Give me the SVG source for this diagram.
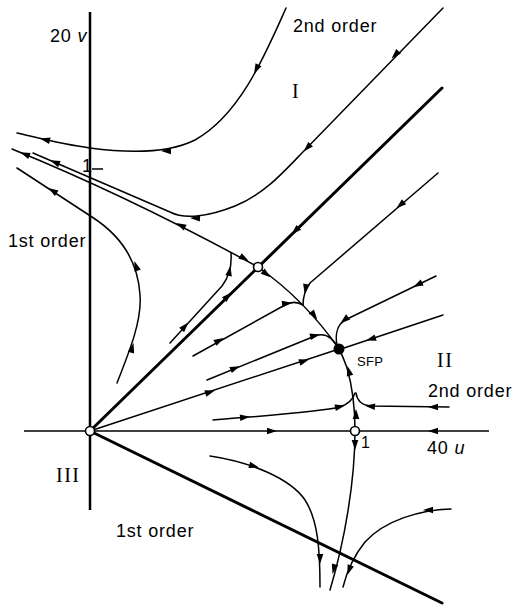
<svg xmlns="http://www.w3.org/2000/svg" xmlns:xlink="http://www.w3.org/1999/xlink" width="516" height="605" viewBox="0 0 516 605">
<style>
.thin{fill:none;stroke:#000;stroke-width:1.5;stroke-linecap:round;stroke-linejoin:round}
.thick{fill:none;stroke:#000;stroke-width:3;stroke-linecap:round}
.axis{fill:none;stroke:#000}
.lbl{font-family:"Liberation Sans",Arial,sans-serif;font-size:18px;fill:#000;letter-spacing:0.8px}
.rom{font-family:"Liberation Serif","Times New Roman",serif;font-size:20px;fill:#000;letter-spacing:1.5px}
.pt{fill:#fff;stroke:#000;stroke-width:1.6}
</style>
<defs>
<path id="ah" d="M2,0 L-8,-3.3 L-8,3.3 Z" fill="#000"/>
</defs>
<rect width="516" height="605" fill="#fff"/>
<g id="axes">
<path class="axis" d="M90,12 V510" stroke-width="2.5"/>
<path class="axis" d="M24,431 H489" stroke-width="1.5"/>
<path class="axis" d="M92,169 H103" stroke-width="1.5"/>
</g>
<g id="connectors">
<path class="thick" d="M90,431 L442,88"/>
<path class="thick" d="M90,431 L442,603"/>
<path class="thin" d="M286,8 C265,55 240,115 195,140 C165,155 120,152 90,148 C60,144 35,137 17,133"/>
<path class="thin" d="M443,8 L300,155 C280,176 262,195 235,206 C210,216 185,220 170,212 L33,153"/>
<path class="thin" d="M12,149 Q130,197 258,267"/>
<path class="thin" d="M258,267 Q305,300 339,349"/>
<path class="thin" d="M117,383 C130,350 142,320 140,295 C138,260 120,235 92,217 L17,168"/>
<path class="thin" d="M170,343 L222,286 C229,277 232,266 231,253"/>
<path class="thin" d="M438,173 L310,283 C305,290 303,298 303,305"/>
<path class="thin" d="M193,356 L285,305 C292,301 298,302 303,305"/>
<path class="thin" d="M436,276 L345,320 C337,325 335,335 337,345"/>
<path class="thin" d="M443,315 L341,349"/>
<path class="thin" d="M207,380 L315,336 C325,332 333,338 339,349"/>
<path class="thin" d="M90,431 L339,349"/>
<path class="thin" d="M213,420 C260,416 320,412 340,407 C348,404 353,400 355,393"/>
<path class="thin" d="M449,407 L370,406 C362,405 357,400 356,393"/>
<path class="thin" d="M355,431 C355,410 352,385 347,368 C344,360 342,354 339,349"/>
<path class="thin" d="M355,431 C355,480 345,540 330,590"/>
<path class="thin" d="M210,456 C250,462 290,478 305,500 C318,520 320,550 320,587"/>
<path class="thin" d="M451,509 C420,510 385,520 365,542 C352,558 346,575 343,587"/>
<g id="arrows">
<use xlink:href="#ah" transform="translate(230,294) rotate(-44.3)"/>
<use xlink:href="#ah" transform="translate(293,233) rotate(135.7)"/>
<use xlink:href="#ah" transform="translate(255,72) rotate(116)"/>
<use xlink:href="#ah" transform="translate(163,151) rotate(180)"/>
<use xlink:href="#ah" transform="translate(42,139) rotate(193)"/>
<use xlink:href="#ah" transform="translate(393,57) rotate(134.6)"/>
<use xlink:href="#ah" transform="translate(305,150) rotate(134.6)"/>
<use xlink:href="#ah" transform="translate(192,218) rotate(182)"/>
<use xlink:href="#ah" transform="translate(52,161) rotate(203)"/>
<use xlink:href="#ah" transform="translate(22,153) rotate(202)"/>
<use xlink:href="#ah" transform="translate(178,224) rotate(207)"/>
<use xlink:href="#ah" transform="translate(247,260) rotate(30)"/>
<use xlink:href="#ah" transform="translate(269,276) rotate(37)"/>
<use xlink:href="#ah" transform="translate(316,318) rotate(54)"/>
<use xlink:href="#ah" transform="translate(133,345) rotate(-75)"/>
<use xlink:href="#ah" transform="translate(135,263) rotate(-110)"/>
<use xlink:href="#ah" transform="translate(50,189) rotate(213)"/>
<use xlink:href="#ah" transform="translate(187,324) rotate(-48)"/>
<use xlink:href="#ah" transform="translate(230,268) rotate(-80)"/>
<use xlink:href="#ah" transform="translate(398,207) rotate(139)"/>
<use xlink:href="#ah" transform="translate(305,292) rotate(100)"/>
<use xlink:href="#ah" transform="translate(222,339) rotate(-29)"/>
<use xlink:href="#ah" transform="translate(290,303) rotate(-8)"/>
<use xlink:href="#ah" transform="translate(415,286) rotate(154)"/>
<use xlink:href="#ah" transform="translate(342,322) rotate(140)"/>
<use xlink:href="#ah" transform="translate(368,340) rotate(162)"/>
<use xlink:href="#ah" transform="translate(238,367) rotate(-22)"/>
<use xlink:href="#ah" transform="translate(318,335) rotate(-12)"/>
<use xlink:href="#ah" transform="translate(213,391) rotate(-18.2)"/>
<use xlink:href="#ah" transform="translate(307,360) rotate(-18.2)"/>
<use xlink:href="#ah" transform="translate(248,417) rotate(-5)"/>
<use xlink:href="#ah" transform="translate(343,406) rotate(-12)"/>
<use xlink:href="#ah" transform="translate(430,407) rotate(180)"/>
<use xlink:href="#ah" transform="translate(367,406) rotate(185)"/>
<use xlink:href="#ah" transform="translate(356,411) rotate(-90)"/>
<use xlink:href="#ah" transform="translate(348,368) rotate(-105)"/>
<use xlink:href="#ah" transform="translate(275,431) rotate(0)"/>
<use xlink:href="#ah" transform="translate(430,431) rotate(180)"/>
<use xlink:href="#ah" transform="translate(355,448) rotate(90)"/>
<use xlink:href="#ah" transform="translate(333,572) rotate(105)"/>
<use xlink:href="#ah" transform="translate(257,467) rotate(15)"/>
<use xlink:href="#ah" transform="translate(320,562) rotate(90)"/>
<use xlink:href="#ah" transform="translate(425,510) rotate(180)"/>
<use xlink:href="#ah" transform="translate(348,573) rotate(110)"/>
</g>
</g>
<g id="node-origin"><circle class="pt" cx="90" cy="431" r="4.5"/></g>
<g id="node-saddle1"><circle class="pt" cx="258" cy="267" r="4.5"/></g>
<g id="node-saddle2"><circle class="pt" cx="355" cy="431" r="4.5"/></g>
<g id="node-sfp"><circle cx="339" cy="349" r="5.5" fill="#000"/><text class="lbl" x="357" y="366" style="font-size:13px;letter-spacing:0.3px">SFP</text></g>
<g id="labels">
<text class="lbl" x="50" y="42">20 <tspan font-style="italic">v</tspan></text>
<text class="lbl" x="82" y="172">1</text>
<text class="lbl" x="8" y="247">1st order</text>
<text class="lbl" x="293" y="32">2nd order</text>
<text class="rom" x="292" y="98">I</text>
<text class="rom" x="437" y="367">II</text>
<text class="lbl" x="428" y="397">2nd order</text>
<text class="lbl" x="361" y="448" style="font-size:16px">1</text>
<text class="lbl" x="427" y="454">40 <tspan font-style="italic">u</tspan></text>
<text class="rom" x="56" y="482">III</text>
<text class="lbl" x="116" y="537">1st order</text>
</g>
</svg>
